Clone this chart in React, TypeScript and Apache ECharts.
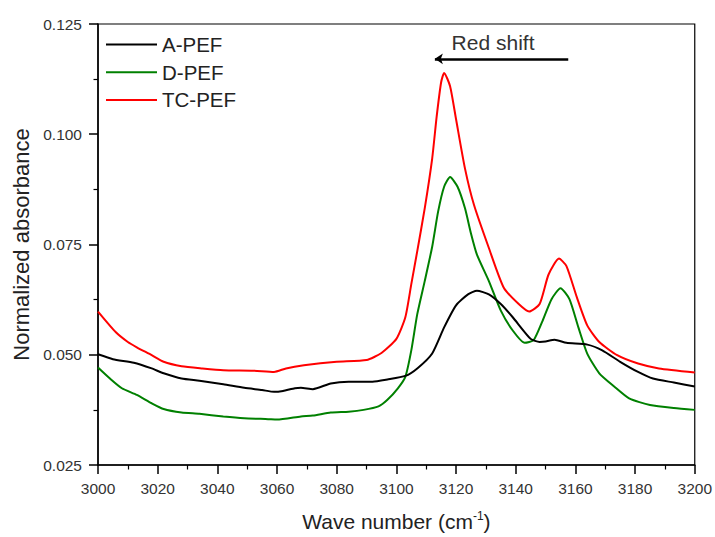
import React, { useEffect, useRef } from "react";
import * as echarts from "echarts";

const seriesNames = ["A-PEF", "D-PEF", "TC-PEF"];
const seriesColors = ["#000000", "#008000", "#ff0000"];

const aWave = [3000, 3005, 3012, 3018, 3022, 3028, 3034, 3042, 3049, 3055, 3059, 3062, 3066, 3068, 3072, 3078, 3084, 3092, 3097, 3103, 3107, 3112, 3116, 3120, 3124, 3127, 3131, 3135, 3139, 3145, 3148, 3150, 3153, 3157, 3164, 3169, 3175, 3181, 3186, 3193, 3200];
const aAbs = [0.0501, 0.049, 0.0482, 0.0469, 0.0458, 0.0446, 0.0441, 0.0433, 0.0425, 0.042, 0.0416, 0.0418, 0.0424, 0.0425, 0.0422, 0.0435, 0.0439, 0.0439, 0.0444, 0.0452, 0.0469, 0.0503, 0.0562, 0.0612, 0.0637, 0.0645, 0.0637, 0.0615, 0.0585, 0.0536, 0.0529, 0.053, 0.0534, 0.0527, 0.0523, 0.051, 0.0484, 0.0461, 0.0446, 0.0437, 0.0428];

const dWave = [3000, 3004, 3008, 3013, 3018, 3022, 3028, 3034, 3042, 3049, 3057, 3060, 3068, 3072, 3078, 3084, 3089, 3094, 3097, 3100.5, 3103, 3105, 3107, 3109.5, 3112, 3114, 3116, 3118, 3120.5, 3123, 3125, 3127, 3131, 3135, 3139, 3143, 3146, 3149, 3152, 3155, 3158, 3161, 3164, 3168, 3173, 3178, 3185, 3193, 3200];
const dAbs = [0.0471, 0.0446, 0.0424, 0.0409, 0.039, 0.0377, 0.0369, 0.0366, 0.036, 0.0356, 0.0354, 0.0353, 0.036, 0.0362, 0.0369, 0.0371, 0.0375, 0.0383, 0.0398, 0.0424, 0.045, 0.051, 0.0592, 0.0667, 0.0745, 0.0825, 0.0881, 0.0903, 0.0881, 0.0832, 0.0775, 0.0727, 0.0667, 0.06, 0.0555, 0.0527, 0.0533, 0.0577, 0.0626, 0.0651, 0.0626, 0.0562, 0.0502, 0.0458, 0.0428, 0.0401, 0.0386, 0.0379, 0.0375];

const tcWave = [3000, 3006, 3010, 3013, 3018, 3022, 3028, 3035, 3042, 3052, 3059, 3063, 3069, 3080, 3090, 3095, 3100, 3103, 3105, 3107, 3109.5, 3112, 3113.5, 3115, 3116, 3118, 3120, 3123, 3126, 3131, 3136, 3141, 3144.5, 3148, 3151, 3154.5, 3157, 3160.5, 3164, 3168, 3174, 3181, 3188, 3200];
const tcAbs = [0.0598, 0.0551, 0.0529, 0.0517, 0.0499, 0.0484, 0.0474, 0.0469, 0.0465, 0.0464, 0.0461, 0.0469, 0.0476, 0.0484, 0.0488, 0.0504, 0.0536, 0.0585, 0.066, 0.0735, 0.0832, 0.0945, 0.104, 0.1118, 0.1139, 0.1109, 0.1034, 0.0922, 0.084, 0.0742, 0.0652, 0.0615, 0.0598, 0.0615, 0.0682, 0.0718, 0.0701, 0.063, 0.0566, 0.0529, 0.0499, 0.048, 0.0469, 0.046];

const xMin = 3000, xMax = 3200, xStep = 20;
const yMin = 0.025, yMax = 0.125, yStep = 0.025;

const arrowStart = [3157.6, 0.1171];
const arrowEnd = [3112.9, 0.1171];
const annotationPos = [3132.4, 0.1207];
const annotationText = "Red shift";

const zip = (xs: number[], ys: number[]) => xs.map((x, i) => [x, ys[i]]);

export default function App() {
  const ref = useRef<HTMLDivElement>(null);
  useEffect(() => {
    if (!ref.current) return;
    const chart = echarts.init(ref.current, undefined, { renderer: "svg" });
    const font = "'Liberation Sans', Arial, sans-serif";
    const datas = [zip(aWave, aAbs), zip(dWave, dAbs), zip(tcWave, tcAbs)];
    const series: any[] = datas.map((d, i) => ({
      name: seriesNames[i],
      type: "line",
      data: d,
      symbol: "none",
      smooth: 0.2,
      lineStyle: { color: seriesColors[i], width: 2 },
      itemStyle: { color: seriesColors[i] },
      z: 3 - i,
    }));
    series[0].markLine = {
      silent: true,
      symbol: ["none", "arrow"],
      symbolSize: [8, 8],
      label: { show: false },
      lineStyle: { color: "#000", width: 2.5, type: "solid" },
      data: [[{ coord: arrowStart }, { coord: arrowEnd }]],
    };
    series[0].markPoint = {
      silent: true,
      symbol: "circle",
      symbolSize: 0,
      label: {
        show: true,
        position: "inside",
        formatter: annotationText,
        fontFamily: font,
        fontSize: 21,
        color: "#333",
      },
      data: [{ coord: annotationPos }],
    };
    chart.setOption({
      animation: false,
      backgroundColor: "#fff",
      grid: {
        left: 98,
        top: 24,
        right: 18,
        bottom: 68,
        show: true,
        borderColor: "#000",
        borderWidth: 1.2,
        backgroundColor: "transparent",
      },
      legend: {
        orient: "vertical",
        left: 106,
        top: 34,
        padding: 0,
        icon: "rect",
        itemWidth: 51,
        itemHeight: 2,
        itemGap: 6.7,
        data: seriesNames,
        textStyle: { fontFamily: font, fontSize: 20.5, lineHeight: 20, color: "#222" },
      },
      xAxis: {
        type: "value",
        min: xMin,
        max: xMax,
        interval: xStep,
        name: "Wave number (cm{sup|-1})",
        nameLocation: "middle",
        nameGap: 45,
        nameTextStyle: {
          fontFamily: font,
          fontSize: 21,
          color: "#222",
          rich: {
            sup: { fontFamily: font, fontSize: 12, color: "#222", padding: [0, 0, 11, 0] },
          },
        },
        axisLine: { show: true, lineStyle: { color: "#000", width: 1.5 } },
        axisTick: { show: true, inside: false, length: 9, lineStyle: { color: "#000", width: 1.5 } },
        minorTick: { show: true, splitNumber: 2, length: 4.5, lineStyle: { color: "#000", width: 1.2 } },
        splitLine: { show: false },
        axisLabel: {
          fontFamily: font,
          fontSize: 15.5,
          color: "#333",
          margin: 15,
          formatter: (v: number) => String(v),
        },
      },
      yAxis: {
        type: "value",
        min: yMin,
        max: yMax,
        interval: yStep,
        name: "Normalized absorbance",
        nameLocation: "middle",
        nameGap: 63,
        nameTextStyle: { fontFamily: font, fontSize: 22, color: "#222" },
        axisLine: { show: true, lineStyle: { color: "#000", width: 1.5 } },
        axisTick: { show: true, inside: false, length: 9, lineStyle: { color: "#000", width: 1.5 } },
        minorTick: { show: true, splitNumber: 2, length: 4.5, lineStyle: { color: "#000", width: 1.2 } },
        splitLine: { show: false },
        axisLabel: {
          fontFamily: font,
          fontSize: 15.5,
          color: "#333",
          margin: 16,
          formatter: (v: number) => v.toFixed(3),
        },
      },
      series,
    });
    return () => chart.dispose();
  }, []);
  return (
    <div
      ref={ref}
      style={{ position: "absolute", left: 0, top: 0, width: 715, height: 537 }}
    />
  );
}
